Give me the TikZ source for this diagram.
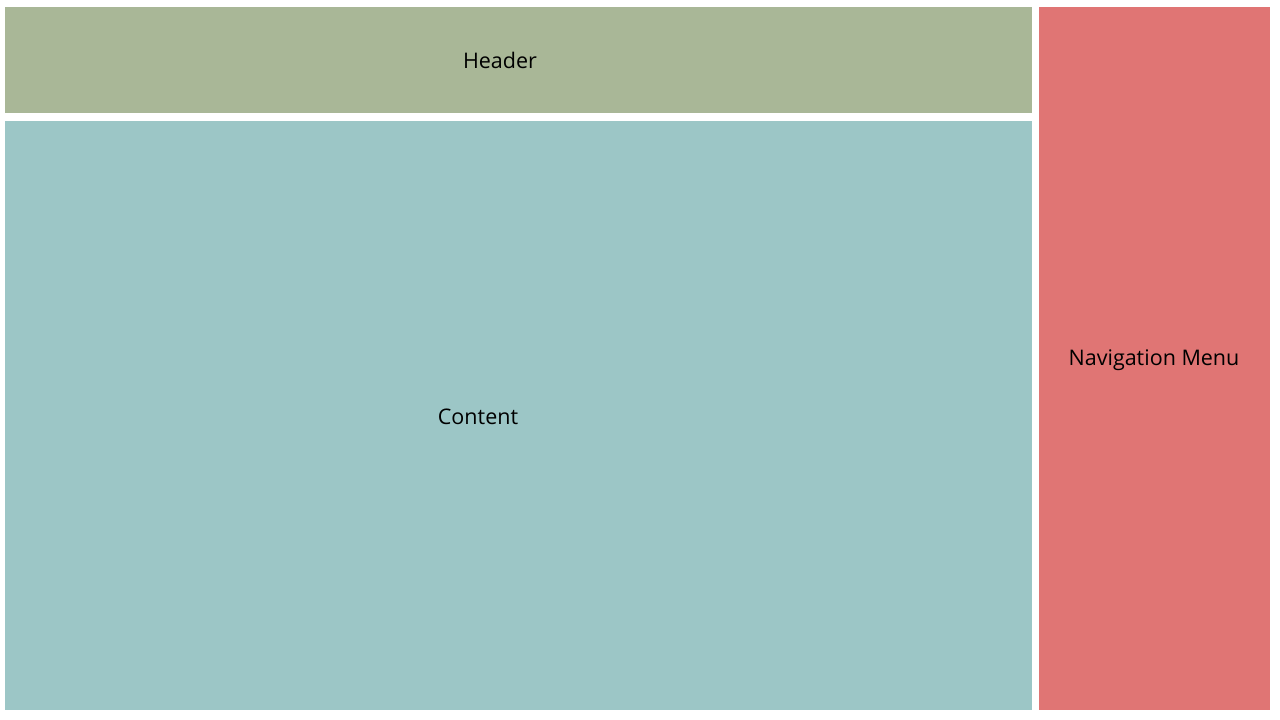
\documentclass[tikz,border=0pt]{standalone}
\usepackage{fontspec}
\setmainfont{Open Sans}
\definecolor{headergreen}{HTML}{A9B797}
\definecolor{contentblue}{HTML}{9CC6C6}
\definecolor{navred}{HTML}{E07574}
\begin{document}
\begin{tikzpicture}[x=1pt,y=-1pt]
      \tikzset{block node/.style={rectangle, draw=none, inner sep=0pt, font=\fontsize{21.5}{25}\selectfont, text=black}}
      \useasboundingbox (0,0) rectangle (1280,720);
      \fill[white] (0,0) rectangle (1280,720);
      \node[block node, fill=headergreen, minimum width=1027pt, minimum height=106pt] (header) at (518.5,60) {};
      \node[block node, fill=contentblue, minimum width=1027pt, minimum height=589pt] (content) at (518.5,415.5) {};
      \node[block node, fill=navred, minimum width=231pt, minimum height=703pt] (nav) at (1154.5,358.5) {};
      \node[block node, anchor=base] (navlabel) at (1154,365) {Navigation Menu};
      \node[block node, anchor=base] (headerlabel) at (500,68) {Header};
      \node[block node, anchor=base] (contentlabel) at (478,424) {Content};
    \end{tikzpicture}
\end{document}
